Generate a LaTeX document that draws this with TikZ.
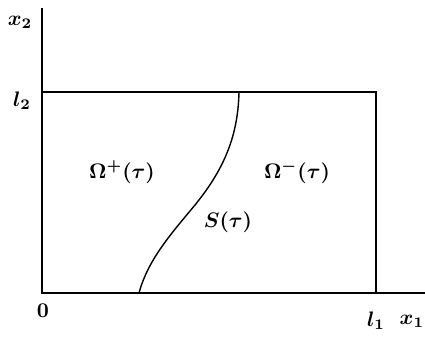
\documentclass[tikz,border=0pt]{standalone}
\usepackage{amsmath,amssymb,bm}
\begin{document}
\begin{tikzpicture}[x=1pt,y=-1pt,
  lbl/.style={scale=2.1, inner sep=0pt},
  ln/.style={line width=1.6pt}]
\useasboundingbox (0,0) rectangle (425,340);
\coordinate (O) at (42,293);
\coordinate (ytop) at (42,8);
\coordinate (xend) at (425,293);
\coordinate (TL) at (42,92);
\coordinate (TR) at (376,92);
\coordinate (BR) at (376,293);
\coordinate (cb) at (139,293);
\coordinate (ct) at (239,92);
\draw[ln] (ytop) -- (O) -- (xend);
\draw[ln] (TL) -- (TR) -- (BR);
\draw[line width=1.4pt] (cb) .. controls (148,260) and (170,235) .. (195,205)
  .. controls (225,168) and (238,135) .. (ct);
\node[lbl] (x2) at (20,22) {$\bm{x_2}$};
\node[lbl] (l2) at (22,101) {$\bm{l_2}$};
\node[lbl] (zero) at (43,311) {$\mathbf{0}$};
\node[lbl] (l1) at (376,321) {$\bm{l_1}$};
\node[lbl,anchor=east] (x1) at (424.5,321) {$\bm{x_1}$};
\node[lbl] (op) at (122,172) {$\bm{\Omega^{+}(\tau)}$};
\node[lbl] (om) at (297,172) {$\bm{\Omega^{-}(\tau)}$};
\node[lbl] (S) at (228,222) {$\bm{S(\tau)}$};
\end{tikzpicture}
\end{document}
